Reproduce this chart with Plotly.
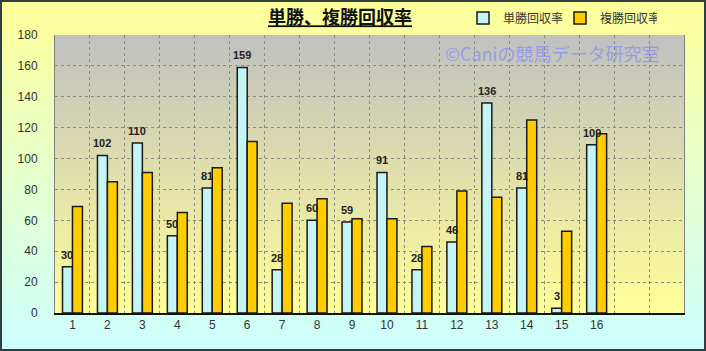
import base64
import plotly.graph_objects as go

races = list(range(1, 17))
tan_rate = [30, 102, 110, 50, 81, 159, 28, 60, 59, 91, 28, 46, 136, 81, 3, 109]
fuku_rate = [69, 85, 91, 65, 94, 111, 71, 74, 61, 61, 43, 79, 75, 125, 53, 116]
y_ticks = [0, 20, 40, 60, 80, 100, 120, 140, 160, 180]

W, H = 706, 351
L, R, T, B = 55, 22, 35, 38
pw, ph = W - L - R, H - T - B


def grad_uri(top, bottom):
    svg = ('<svg xmlns="http://www.w3.org/2000/svg" width="100" height="100" preserveAspectRatio="none">'
           '<defs><linearGradient id="g" x1="0" y1="0" x2="0" y2="1">'
           f'<stop offset="0" stop-color="{top}"/><stop offset="1" stop-color="{bottom}"/>'
           '</linearGradient></defs><rect width="100" height="100" fill="url(#g)"/></svg>')
    return "data:image/svg+xml;base64," + base64.b64encode(svg.encode()).decode()


fig = go.Figure()
fig.add_trace(go.Bar(
    x=races, y=tan_rate, name="単勝回収率",
    marker=dict(color="#C4F4F6", line=dict(color="#1a1a1a", width=1.5)),
))
fig.add_trace(go.Bar(
    x=races, y=fuku_rate, name="複勝回収率",
    marker=dict(color="#FFCC00", line=dict(color="#1a1a1a", width=1.5)),
))

for xi, v in zip(races, tan_rate):
    fig.add_annotation(x=xi - 0.143, y=v, text=f"<b>{v}</b>", showarrow=False,
                       yanchor="bottom", yshift=4, xref="x", yref="y",
                       font=dict(family="Liberation Sans", size=11, color="#222"))

fig.add_annotation(xref="paper", yref="paper", x=(552 - L) / pw, y=1 - (53 - T) / ph,
                   text="©Caniの競馬データ研究室", showarrow=False,
                   xanchor="center", yanchor="middle",
                   font=dict(family="Noto Sans CJK JP", size=18, color="rgba(120,130,255,0.6)"))

fig.update_layout(
    width=W, height=H,
    margin=dict(l=L, r=R, t=T, b=B, autoexpand=False),
    paper_bgcolor="#FFFF99",
    plot_bgcolor="rgba(0,0,0,0)",
    barmode="group", bargap=0.43, bargroupgap=0,
    title=dict(text="<b>単勝、複勝回収率</b>", x=340 / W, xref="container", xanchor="center",
               y=1 - 18 / H, yref="container", yanchor="middle",
               font=dict(family="Noto Sans CJK JP", size=18, color="#111", lineposition="under")),
    legend=dict(orientation="h", x=(463 - L) / pw, y=1 + (35 - 18) / ph, xanchor="left", yanchor="middle",
                bgcolor="rgba(0,0,0,0)", itemwidth=30, tracegroupgap=0, entrywidth=52,
                font=dict(family="Noto Sans CJK JP", size=12, color="#333")),
    font=dict(family="Liberation Sans", size=12, color="#333"),
    xaxis=dict(range=[0.5, 18.5], tickvals=races, ticktext=[str(r) for r in races],
               showgrid=False, zeroline=False, showline=True, linecolor="#111", linewidth=1.5,
               mirror=False, ticks="", tickfont=dict(size=12, color="#333"),
               minor=dict(tick0=0.5, dtick=1, showgrid=True, gridcolor="#8a8a8a",
                          griddash="dot", gridwidth=1)),
    yaxis=dict(range=[0, 180], tickvals=y_ticks, showgrid=True, gridcolor="#8a8a8a",
               griddash="dot", gridwidth=1, zeroline=False, showline=True, linecolor="#808080",
               linewidth=1, mirror=True, ticks="", ticklabelstandoff=14,
               tickfont=dict(size=12, color="#333")),
    images=[
        dict(source=grad_uri("#FFFF99", "#CCFFFF"), xref="paper", yref="paper",
             x=-L / pw, y=1 + T / ph, sizex=W / pw, sizey=H / ph, sizing="stretch",
             xanchor="left", yanchor="top", layer="below"),
        dict(source=grad_uri("#C0C0C0", "#FFFF99"), xref="paper", yref="paper",
             x=0, y=1, sizex=1, sizey=1, sizing="stretch",
             xanchor="left", yanchor="top", layer="below"),
    ],
    shapes=[
        dict(type="rect", xref="paper", yref="paper", x0=-(L - 1) / pw, x1=1 + (R - 1) / pw,
             y0=-(B - 1) / ph, y1=1 + (T - 1) / ph, line=dict(color="#2F3F3F", width=2),
             fillcolor="rgba(0,0,0,0)", layer="above"),
    ],
)

fig.write_html("out.html")
